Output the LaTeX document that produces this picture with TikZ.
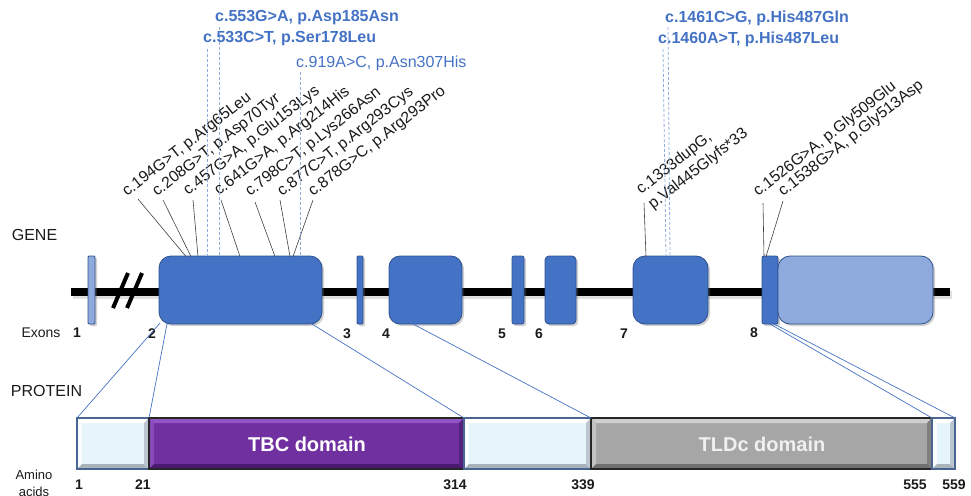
\documentclass[tikz,border=0pt]{standalone}
\usepackage{fontspec}
\setmainfont{Liberation Sans}
\usetikzlibrary{shadows}
\definecolor{exdark}{HTML}{4472C4}
\definecolor{exborder}{HTML}{2F528F}
\definecolor{exlight}{HTML}{8FAADC}
\definecolor{mutblue}{HTML}{4472C4}
\definecolor{dashblue}{HTML}{8FAADC}
\definecolor{txt}{HTML}{1A1A1A}
\definecolor{purp}{HTML}{7030A0}
\definecolor{purpL}{HTML}{9255C4}
\definecolor{purpD}{HTML}{4A1A70}
\definecolor{gryM}{HTML}{A6A6A6}
\definecolor{gryL}{HTML}{CFCFCF}
\definecolor{gryD}{HTML}{707070}
\definecolor{pale}{HTML}{E6F4FC}
\definecolor{paleL}{HTML}{FFFFFF}
\definecolor{paleD}{HTML}{A9B3BC}
\definecolor{paleB}{HTML}{4A6591}
\newcommand{\protseg}[6]{%
  \fill[#3] (#1,418) rectangle (#2,469);
  \fill[#4] (#1,418) -- (#2,418) -- ({#2-5},423) -- ({#1+5},423) -- cycle;
  \fill[#4!70!#3] (#1,418) -- ({#1+5},423) -- ({#1+5},464) -- (#1,469) -- cycle;
  \fill[#5] (#1,469) -- ({#1+5},464) -- ({#2-5},464) -- (#2,469) -- cycle;
  \fill[#5!70!#3] (#2,418) -- ({#2-5},423) -- ({#2-5},464) -- (#2,469) -- cycle;
  \draw[#6, line width=1.2pt] (#1,418) rectangle (#2,469);
}
\begin{document}
\begin{tikzpicture}[x=1pt,y=-1pt,
  exon/.style={draw=exborder, line width=0.8pt, fill=exdark, inner sep=0pt,
    minimum height=68pt, drop shadow={shadow xshift=2pt, shadow yshift=-2pt, opacity=0.3, fill=black!60}},
  mut/.style={rotate=38, anchor=base west, inner sep=0pt, text=txt, font=\fontsize{15.8}{18}\selectfont},
  bmut/.style={anchor=west, inner sep=0pt, text=mutblue, font=\bfseries\fontsize{16}{18}\selectfont},
  nmut/.style={anchor=west, inner sep=0pt, text=mutblue, font=\fontsize{16}{18}\selectfont},
  leader/.style={draw=black!75, line width=0.6pt},
  dline/.style={draw=dashblue, line width=0.8pt, dash pattern=on 3pt off 2pt},
  conn/.style={draw=exdark, line width=0.7pt},
  side/.style={inner sep=0pt, text=txt, font=\fontsize{16}{18}\selectfont},
  num/.style={inner sep=0pt, text=txt, font=\bfseries\fontsize{14}{16}\selectfont},
  dom/.style={inner sep=0pt, font=\bfseries\fontsize{20}{24}\selectfont}]
\useasboundingbox (0,0) rectangle (971,495);

% gene line
\coordinate (gl) at (71,292);
\coordinate (gr) at (950,292);
\coordinate (gls) at (73,295);
\coordinate (grs) at (952,295);
\draw[line width=8pt, black!20, opacity=0.6] (gls) -- (grs);
\draw[line width=8pt, black] (gl) -- (gr);
% break marks
\draw[line width=4pt, black] (113,308) -- (128,273);
\draw[line width=4pt, black] (127,308) -- (142,273);

% exons
\node[exon, fill=exlight, minimum width=7pt, rounded corners=1pt] (e1) at (91.5,290) {};
\node[exon, minimum width=163pt, rounded corners=12pt] (e2) at (240.5,290) {};
\node[exon, minimum width=6pt, rounded corners=1pt] (e3) at (360,290) {};
\node[exon, minimum width=73pt, rounded corners=11pt] (e4) at (425.5,290) {};
\node[exon, minimum width=12pt, rounded corners=2pt] (e5) at (518,290) {};
\node[exon, minimum width=31pt, rounded corners=4pt] (e6) at (560.5,290) {};
\node[exon, minimum width=75pt, rounded corners=12pt] (e7) at (670.5,290) {};
\node[exon, minimum width=16pt, rounded corners=2pt] (e8) at (770,290) {};
\node[exon, fill=exlight, minimum width=155pt, rounded corners=12pt] (e8b) at (855.5,290) {};

% side labels
\node[side] (gene) at (34.5,235) {GENE};
\node[side] (prot) at (46.5,391) {PROTEIN};
\node[side, font=\fontsize{14}{16}\selectfont] (exons) at (41,333) {Exons};
\node[side, font=\fontsize{13}{17}\selectfont, align=center, anchor=north] (aa) at (34,470) {Amino\\acids};

% exon numbers
\node[num] (n1) at (77,333) {1};
\node[num] (n2) at (152,334) {2};
\node[num] (n3) at (347,334) {3};
\node[num] (n4) at (386,334) {4};
\node[num] (n5) at (502,334) {5};
\node[num] (n6) at (539,334) {6};
\node[num] (n7) at (624,334) {7};
\node[num] (n8) at (754,333) {8};

% black mutation labels
\node[mut] (m1) at (127,197) {c.194G>T, p.Arg65Leu};
\node[mut] (m2) at (157,197) {c.208G>T, p.Asp70Tyr};
\node[mut] (m3) at (188,196) {c.457G>A, p.Glu153Lys};
\node[mut] (m4) at (219,196) {c.641G>A, p.Arg214His};
\node[mut] (m5) at (250,197) {c.798C>T, p.Lys266Asn};
\node[mut] (m6) at (282,197) {c.877C>T, p.Arg293Cys};
\node[mut] (m7) at (313,197) {c.878G>C, p.Arg293Pro};
\node[mut] (m8a) at (641,195) {c.1333dupG,};
\node[mut] (m8b) at (653,210) {p.Val445Glyfs*33};
\node[mut] (m9) at (758,197) {c.1526G>A, p.Gly509Glu};
\node[mut] (m10) at (783,197) {c.1538G>A, p.Gly513Asp};

\coordinate (s1) at (138,199); \coordinate (t1) at (186,256.5);
\coordinate (s2) at (163,200); \coordinate (t2) at (191,256.5);
\coordinate (s3) at (193,200); \coordinate (t3) at (198,256.5);
\coordinate (s4) at (221,200); \coordinate (t4) at (240,256.5);
\coordinate (s5) at (255,202); \coordinate (t5) at (275,256.5);
\coordinate (s6) at (280,200); \coordinate (t6) at (290,256.5);
\coordinate (s7) at (313,200); \coordinate (t7) at (293,256.5);
\coordinate (s8) at (644,203); \coordinate (t8) at (646,256.5);
\coordinate (s9) at (763,203); \coordinate (t9) at (764,256.5);
\coordinate (s10) at (783,201); \coordinate (t10) at (766,256.5);
\foreach \i in {1,...,10} { \draw[leader] (s\i) -- (t\i); }

% blue mutation labels
\node[bmut] (b553) at (215,18) {c.553G>A, p.Asp185Asn};
\node[bmut] (b533) at (203,39) {c.533C>T, p.Ser178Leu};
\node[nmut] (b919) at (296,63) {c.919A>C, p.Asn307His};
\node[bmut] (b1461) at (665,18) {c.1461C>G, p.His487Gln};
\node[bmut] (b1460) at (658,39) {c.1460A>T, p.His487Leu};

\coordinate (u553) at (219,27);  \coordinate (v553) at (219,256);
\coordinate (u533) at (207,49);  \coordinate (v533) at (207,256);
\coordinate (u919) at (300,72);  \coordinate (v919) at (300,256);
\coordinate (u1461) at (668,27); \coordinate (v1461) at (670,256);
\coordinate (u1460) at (663,49); \coordinate (v1460) at (666,256);
\foreach \k in {553,533,919,1461,1460} { \draw[dline] (u\k) -- (v\k); }

% protein bar
\protseg{77}{149}{pale}{paleL}{paleD}{paleB}
\protseg{149}{464}{purp}{purpL}{purpD}{black!85}
\protseg{464}{591}{pale}{paleL}{paleD}{paleB}
\protseg{591}{932}{gryM}{gryL}{gryD}{black!85}
\protseg{932}{955}{pale}{paleL}{paleD}{paleB}
\node[dom, text=white] (tbc) at (307,444) {TBC domain};
\node[dom, text=white!94!black] (tldc) at (762,444) {TLDc domain};

% amino acid numbers
\node[num] (a1) at (79,485) {1};
\node[num] (a21) at (143,485) {21};
\node[num] (a314) at (455,485) {314};
\node[num] (a339) at (583,485) {339};
\node[num] (a555) at (915,485) {555};
\node[num] (a559) at (954,485) {559};

% connectors exon -> protein
\coordinate (x2a) at (160,323); \coordinate (p1) at (77,418);
\coordinate (x2b) at (167,324); \coordinate (p21) at (149,418);
\coordinate (x2c) at (312,324); \coordinate (p314) at (464,418);
\coordinate (x4) at (413,324);  \coordinate (p339) at (591,418);
\coordinate (x8a) at (770,324); \coordinate (p555) at (932,418);
\coordinate (x8b) at (774,324); \coordinate (p559) at (955,418);
\draw[conn] (x2a) -- (p1);
\draw[conn] (x2b) -- (p21);
\draw[conn] (x2c) -- (p314);
\draw[conn] (x4) -- (p339);
\draw[conn] (x8a) -- (p555);
\draw[conn] (x8b) -- (p559);
\end{tikzpicture}
\end{document}
